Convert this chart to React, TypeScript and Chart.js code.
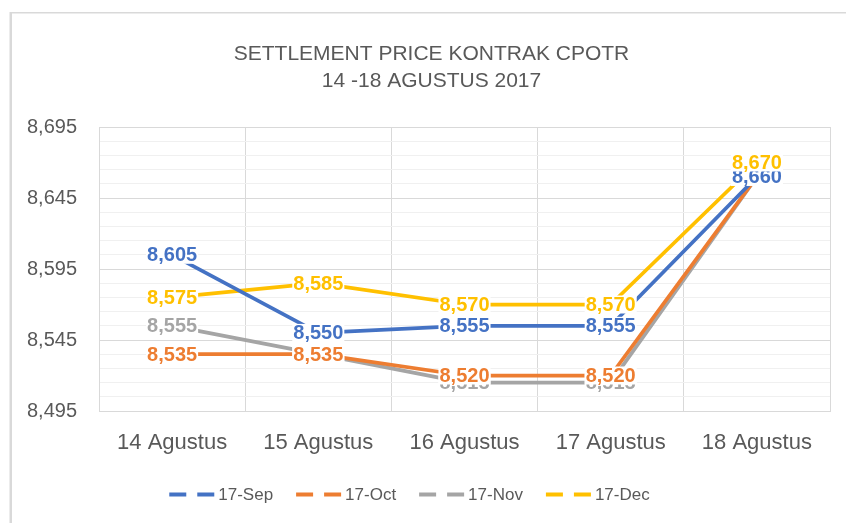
import React, { useEffect, useRef } from 'react';
import { Chart, registerables } from 'chart.js';

Chart.register(...registerables);

const categories = ['14 Agustus', '15 Agustus', '16 Agustus', '17 Agustus', '18 Agustus'];
const sepValues = [8605, 8550, 8555, 8555, 8660];
const octValues = [8535, 8535, 8520, 8520, 8660];
const novValues = [8555, 8535, 8515, 8515, 8660];
const decValues = [8575, 8585, 8570, 8570, 8670];
const seriesNames = ['17-Sep', '17-Oct', '17-Nov', '17-Dec'];
const seriesColors = ['#4472C4', '#ED7D31', '#A5A5A5', '#FFC000'];
const majorTicks = [8495, 8545, 8595, 8645, 8695];
const minorTicks = [8505, 8515, 8525, 8535, 8555, 8565, 8575, 8585, 8605, 8615, 8625, 8635, 8655, 8665, 8675, 8685];
const titleLines = ['SETTLEMENT PRICE KONTRAK CPOTR', '14 -18 AGUSTUS 2017'];
const labelOrder = [2, 1, 0, 3];

const FONT = '"Liberation Sans", Arial, sans-serif';
const TEXT = '#595959';

const fmt = (v: number) => v.toLocaleString('en-US');

const decorPlugin = {
  id: 'decor',
  beforeDraw(chart: any) {
    const ctx = chart.ctx;
    ctx.save();
    ctx.fillStyle = '#ffffff';
    ctx.fillRect(0, 0, chart.width, chart.height);
    ctx.fillStyle = '#d9d9d9';
    ctx.fillRect(9.5, 12, 2.5, chart.height - 12);
    ctx.fillRect(10, 12, chart.width - 10, 1.5);
    ctx.restore();
  },
  afterDatasetsDraw(chart: any) {
    const ctx = chart.ctx;
    ctx.save();
    ctx.font = `bold 20px ${FONT}`;
    ctx.textAlign = 'center';
    ctx.textBaseline = 'middle';
    labelOrder.forEach((di) => {
      const meta = chart.getDatasetMeta(di);
      const ds = chart.data.datasets[di];
      meta.data.forEach((pt: any, i: number) => {
        const txt = fmt(ds.data[i]);
        const w = ctx.measureText(txt).width;
        ctx.fillStyle = '#ffffff';
        ctx.fillRect(pt.x - w / 2 - 1, pt.y - 9, w + 2, 18);
        ctx.fillStyle = ds.borderColor;
        ctx.fillText(txt, pt.x, pt.y + 1);
      });
    });
    ctx.restore();
  },
  afterDraw(chart: any) {
    const ctx = chart.ctx;
    ctx.save();
    ctx.fillStyle = TEXT;
    ctx.font = `21px ${FONT}`;
    ctx.textAlign = 'center';
    ctx.textBaseline = 'alphabetic';
    ctx.fillText(titleLines[0], 431.5, 60);
    ctx.fillText(titleLines[1], 431.5, 87);
    ctx.font = `17px ${FONT}`;
    const widths = seriesNames.map((n) => ctx.measureText(n).width);
    const sample = 45;
    const gapText = 4;
    const gapItem = 23;
    const total = widths.reduce((a, w) => a + sample + gapText + w, 0) + gapItem * (seriesNames.length - 1);
    let x = 409.5 - total / 2;
    const y = 494.5;
    ctx.textAlign = 'left';
    ctx.textBaseline = 'middle';
    seriesNames.forEach((n, i) => {
      ctx.strokeStyle = seriesColors[i];
      ctx.lineWidth = 4;
      ctx.lineCap = 'butt';
      ctx.beginPath();
      ctx.moveTo(x, y);
      ctx.lineTo(x + 17, y);
      ctx.moveTo(x + 28, y);
      ctx.lineTo(x + 45, y);
      ctx.stroke();
      ctx.fillStyle = TEXT;
      ctx.fillText(n, x + sample + gapText, y + 1);
      x += sample + gapText + widths[i] + gapItem;
    });
    ctx.restore();
  },
};

export default function App() {
  const canvasRef = useRef<HTMLCanvasElement | null>(null);

  useEffect(() => {
    if (!canvasRef.current) return;
    const allValues = [sepValues, octValues, novValues, decValues];
    const chart = new Chart(canvasRef.current, {
      type: 'line',
      data: {
        labels: categories,
        datasets: allValues.map((vals, i) => ({
          label: seriesNames[i],
          data: vals,
          borderColor: seriesColors[i],
          backgroundColor: seriesColors[i],
          borderWidth: 3.75,
          borderCapStyle: 'round',
          borderJoinStyle: 'round',
          pointRadius: 0,
          pointHoverRadius: 0,
          tension: 0,
          fill: false,
        })),
      },
      options: {
        responsive: false,
        animation: false,
        events: [],
        layout: { padding: { left: 0, right: 16, top: 127, bottom: 0 } },
        plugins: {
          legend: { display: false },
          title: { display: false },
          tooltip: { enabled: false },
        },
        scales: {
          x: {
            offset: true,
            grid: { offset: true, color: '#d9d9d9', drawTicks: false, lineWidth: 1 },
            border: { display: true, color: '#d9d9d9' },
            ticks: { color: TEXT, font: { family: FONT, size: 22 }, padding: 19, maxRotation: 0, autoSkip: false },
            afterFit: (scale: any) => { scale.height = 112; },
          },
          y: {
            min: 8495,
            max: 8695,
            afterBuildTicks: (scale: any) => {
              scale.ticks = [...majorTicks, ...minorTicks].sort((a, b) => a - b).map((v) => ({ value: v }));
            },
            afterFit: (scale: any) => { scale.width = 99; },
            grid: {
              drawTicks: false,
              color: (c: any) => (c.tick && majorTicks.includes(c.tick.value) ? '#d9d9d9' : '#f0f0f0'),
              lineWidth: 1,
            },
            border: { display: true, color: '#d9d9d9' },
            ticks: {
              color: TEXT,
              font: { family: FONT, size: 20 },
              padding: 22,
              autoSkip: false,
              callback: (v: any) => (majorTicks.includes(Number(v)) ? fmt(Number(v)) : ''),
            },
          },
        },
      },
      plugins: [decorPlugin],
    } as any);
    return () => chart.destroy();
  }, []);

  return (
    <div style={{ position: 'absolute', left: 0, top: 0, width: 846, height: 523 }}>
      <canvas ref={canvasRef} width={846} height={523} style={{ display: 'block', width: 846, height: 523 }} />
    </div>
  );
}
